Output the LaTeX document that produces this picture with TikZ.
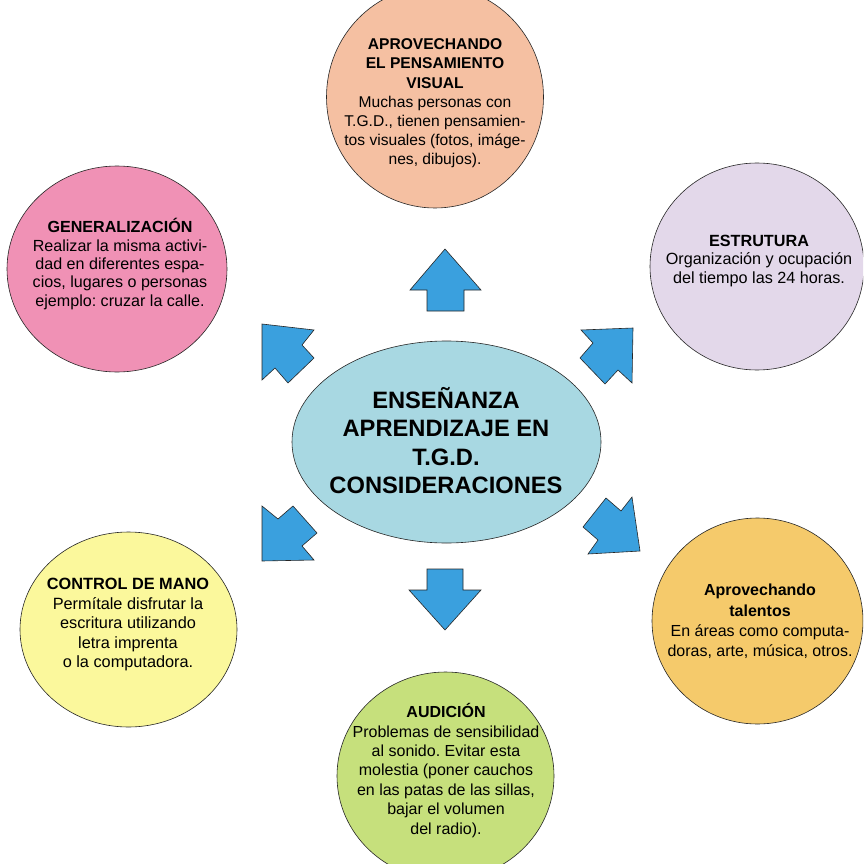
\documentclass[tikz,border=0pt]{standalone}
\usepackage{fontspec}
\setmainfont{Liberation Sans}
\usetikzlibrary{shapes.geometric}
\frenchspacing
\definecolor{csalmon}{HTML}{F5C0A2}
\definecolor{cpink}{HTML}{F091B5}
\definecolor{clav}{HTML}{E3D8EA}
\definecolor{cyel}{HTML}{FBF89C}
\definecolor{corange}{HTML}{F5CA6B}
\definecolor{cgreen}{HTML}{C6E07C}
\definecolor{ccenter}{HTML}{A8D8E2}
\definecolor{cblue}{HTML}{3AA0DE}
\tikzset{
  bubble/.style={ellipse, draw=black!85, line width=0.6pt, inner sep=0pt},
  blockarrow/.style={fill=cblue, draw=black!85, line width=0.6pt, line join=miter},
  txt/.style={align=center, inner sep=0pt, text=black},
}
\begin{document}
\begin{tikzpicture}[x=1pt,y=-1pt]
\useasboundingbox (0,0) rectangle (863,864);
\clip (0,0) rectangle (863,864);
\fill[white] (0,0) rectangle (863,864);

% bubbles
\node[bubble, fill=csalmon, minimum width=217pt, minimum height=222pt] (visual) at (435,97) {};
\node[bubble, fill=cpink, minimum width=220pt, minimum height=206pt] (gen) at (117,269) {};
\node[bubble, fill=clav, minimum width=214pt, minimum height=207pt] (estr) at (757,266.5) {};
\node[bubble, fill=cyel, minimum width=217pt, minimum height=195pt] (mano) at (128.5,629.5) {};
\node[bubble, fill=corange, minimum width=211pt, minimum height=206pt] (talent) at (757.5,621) {};
\node[bubble, fill=cgreen, minimum width=217pt, minimum height=208pt] (audi) at (445.5,776) {};
\node[bubble, fill=ccenter, minimum width=309pt, minimum height=202pt] (center) at (446.5,442) {};

% texts
\node[txt, font=\fontsize{15.6}{19.2}\selectfont] (tvisual) at (435,103.5)
  {\textbf{APROVECHANDO}\\\textbf{EL PENSAMIENTO}\\\textbf{VISUAL}\\Muchas personas con\\T.G.D., tienen pensamien-\\tos visuales (fotos, imáge-\\nes, dibujos).};
\node[txt, font=\fontsize{16.1}{18.3}\selectfont] (tgen) at (120,264)
  {\textbf{GENERALIZACIÓN}\\Realizar la misma activi-\\dad en diferentes espa-\\cios, lugares o personas\\ejemplo: cruzar la calle.};
\node[txt, font=\fontsize{16.2}{18.3}\selectfont] (testr) at (759,261)
  {\textbf{ESTRUTURA}\\Organización y ocupación\\del tiempo las 24 horas.};
\node[txt, font=\fontsize{16.3}{19.5}\selectfont] (tmano) at (128,624.5)
  {\textbf{CONTROL DE MANO}\\Permítale disfrutar la\\escritura utilizando\\letra imprenta\\o la computadora.};
\node[txt, font=\fontsize{16}{20.4}\selectfont] (ttalent) at (760,621.5)
  {\textbf{Aprovechando}\\\textbf{talentos}\\En áreas como computa-\\doras, arte, música, otros.};
\node[txt, font=\fontsize{16}{19.4}\selectfont] (taudi) at (446,770.5)
  {\textbf{AUDICIÓN}\\Problemas de sensibilidad\\al sonido. Evitar esta\\molestia (poner cauchos\\en las patas de las sillas,\\bajar el volumen\\del radio).};
\node[txt, font=\fontsize{23.7}{28.6}\selectfont\bfseries] (tcenter) at (446,440.5)
  {ENSEÑANZA\\APRENDIZAJE EN\\T.G.D.\\CONSIDERACIONES};

% block arrows
\draw[blockarrow] (445,249) -- (481,290) -- (464,290) -- (464,311) -- (427,311) -- (427,290) -- (410,290) -- cycle;
\draw[blockarrow] (427,569) -- (463,569) -- (463,590) -- (481,590) -- (445,630) -- (409,590) -- (427,590) -- cycle;
\draw[blockarrow] (262,324) -- (314,330) -- (302,345) -- (314,358) -- (288,383) -- (275,368) -- (262,380) -- cycle;
\draw[blockarrow] (633,328) -- (632,383) -- (618,370) -- (605,384) -- (580,358) -- (593,343) -- (581,330) -- cycle;
\draw[blockarrow] (262,561) -- (262,506) -- (278,519) -- (293,506) -- (317,533) -- (302,546) -- (314,560) -- cycle;
\draw[blockarrow] (640,551) -- (588,554) -- (598,540) -- (583,527) -- (606,498) -- (621,511) -- (632,497) -- cycle;
\end{tikzpicture}
\end{document}
